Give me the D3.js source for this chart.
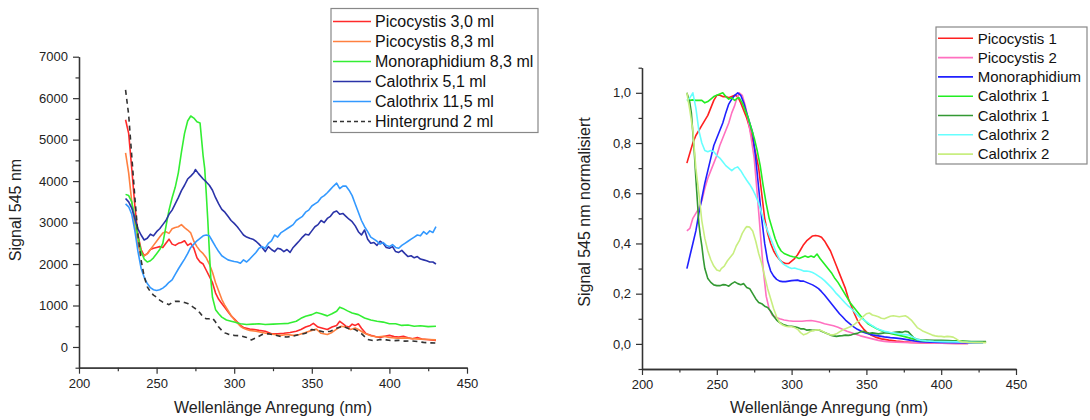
<!DOCTYPE html>
<html><head><meta charset="utf-8">
<script src="https://cdn.jsdelivr.net/npm/d3@7"></script>
<style>
body{margin:0;background:#fff;}
svg{display:block;font-family:"Liberation Sans",Arial,sans-serif;}
.tick text{fill:#222;}
</style></head>
<body><svg id="c" width="1090" height="420"></svg>
<script>
// ---------- Left chart data: Signal 545 nm vs. excitation wavelength ----------
const leftNames = ["Picocystis 3,0 ml","Picocystis 8,3 ml","Monoraphidium 8,3 ml","Calothrix 5,1 ml","Calothrix 11,5 ml","Hintergrund 2 ml"];
const leftColors = ["#ff2a2a","#ff8040","#33ee33","#2a33a8","#3399ff","#333333"];
const leftDashed = [false,false,false,false,false,true];

const picocystis30 = [[230,5480],[232,5150],[234,4300],[236,3400],[238,2700],[240,2350],[242,2200],[244,2250],[246,2350],[248,2380],[250,2400],[252,2420],[254,2400],[256,2500],[258,2600],[260,2480],[262,2450],[264,2500],[266,2520],[268,2560],[270,2450],[272,2500],[274,2380],[276,2150],[278,2050],[280,2000],[282,1850],[284,1700],[286,1550],[288,1300],[290,1150],[292,1050],[294,950],[296,850],[298,750],[300,680],[302,600],[304,520],[306,470],[308,450],[310,430],[313,420],[316,400],[320,380],[324,320],[328,320],[332,330],[336,350],[340,380],[343,420],[346,480],[349,520],[351,570],[354,480],[357,450],[360,420],[363,480],[366,520],[368,620],[370,560],[372,500],[374,480],[376,550],[378,520],[380,560],[382,450],[385,320],[388,280],[391,250],[394,230],[397,260],[400,280],[403,250],[406,240],[409,260],[412,220],[415,200],[418,230],[421,190],[424,180],[427,170],[430,160]];
const picocystis83 = [[230,4680],[232,4200],[234,3500],[236,2900],[238,2450],[240,2250],[242,2200],[244,2250],[246,2350],[248,2450],[250,2550],[252,2650],[254,2750],[256,2780],[258,2740],[260,2850],[262,2880],[264,2900],[266,2950],[268,2880],[270,2820],[272,2750],[274,2550],[276,2420],[278,2320],[280,2250],[282,2150],[284,2000],[286,1800],[288,1550],[290,1350],[292,1150],[294,1000],[296,880],[298,760],[300,660],[302,580],[304,500],[306,450],[308,420],[310,400],[314,380],[318,350],[322,320],[326,300],[330,280],[334,300],[338,280],[342,300],[346,350],[350,400],[353,430],[356,330],[360,300],[363,350],[366,430],[369,500],[372,480],[375,420],[378,460],[380,420],[384,330],[388,270],[392,240],[396,260],[400,230],[405,210],[410,220],[415,200],[420,190],[425,180],[430,170]];
const monoraphidium83 = [[230,3680],[232,3650],[234,3500],[236,3100],[238,2650],[240,2300],[242,2120],[244,2050],[246,2080],[248,2150],[250,2250],[252,2350],[254,2500],[256,2900],[258,3300],[260,3600],[262,3850],[264,4200],[266,4700],[268,5150],[270,5450],[272,5570],[274,5520],[276,5430],[278,5400],[279,5000],[280,4600],[281,4300],[282,3700],[283,3050],[284,2300],[285,1600],[286,1200],[288,900],[290,800],[292,720],[295,650],[298,620],[300,600],[304,560],[308,540],[312,550],[316,560],[320,540],[325,550],[330,560],[335,570],[340,620],[343,690],[346,740],[350,780],[353,830],[356,800],[360,750],[363,800],[366,860],[368,960],[370,930],[373,870],[376,820],[380,780],[384,700],[388,650],[392,620],[396,600],[400,560],[404,560],[408,520],[412,530],[416,500],[420,510],[425,490],[430,500]];
const calothrix51 = [[230,3580],[232,3500],[234,3350],[236,3100],[238,2850],[240,2700],[242,2580],[244,2620],[246,2720],[248,2680],[250,2780],[252,2850],[254,2950],[256,3050],[258,3200],[260,3300],[262,3450],[264,3600],[266,3770],[268,3900],[270,4050],[272,4120],[274,4200],[275,4280],[277,4180],[280,4050],[282,3980],[284,3900],[286,3780],[288,3600],[290,3450],[292,3320],[294,3250],[296,3150],[298,3050],[300,2980],[302,2900],[304,2800],[306,2700],[308,2650],[310,2620],[312,2600],[314,2550],[316,2480],[318,2400],[320,2300],[322,2420],[324,2350],[326,2300],[328,2380],[330,2360],[332,2300],[334,2350],[336,2280],[338,2400],[340,2480],[342,2560],[344,2650],[346,2720],[348,2700],[350,2800],[352,2900],[354,2950],[356,3050],[358,3000],[360,3100],[362,3150],[364,3250],[366,3280],[368,3200],[370,3220],[372,3150],[374,3080],[376,3020],[378,2920],[380,2780],[382,2700],[384,2820],[386,2600],[388,2500],[390,2520],[392,2450],[394,2550],[396,2500],[398,2400],[400,2380],[402,2420],[404,2300],[406,2280],[408,2330],[410,2250],[412,2180],[414,2200],[416,2150],[418,2180],[420,2120],[422,2100],[424,2080],[426,2050],[428,2050],[430,2000]];
const calothrix115 = [[230,3450],[232,3380],[234,3200],[236,2800],[238,2300],[240,1900],[242,1680],[244,1530],[246,1430],[248,1380],[250,1360],[252,1380],[254,1420],[256,1480],[258,1560],[260,1620],[262,1750],[264,1880],[266,2000],[268,2120],[270,2250],[272,2400],[274,2480],[276,2560],[278,2620],[280,2680],[282,2700],[284,2680],[286,2550],[288,2420],[290,2300],[292,2200],[294,2150],[296,2100],[298,2080],[300,2060],[302,2050],[304,2020],[306,2100],[308,2050],[310,2120],[312,2200],[314,2280],[316,2380],[318,2420],[320,2380],[322,2500],[324,2560],[326,2700],[328,2650],[330,2750],[332,2800],[334,2850],[336,2900],[338,2950],[340,3050],[342,3100],[344,3150],[346,3250],[348,3300],[350,3400],[352,3450],[354,3500],[356,3600],[358,3650],[360,3720],[362,3800],[364,3880],[366,3950],[368,3820],[370,3880],[372,3880],[374,3780],[376,3650],[378,3450],[380,3250],[382,3050],[384,2900],[386,2780],[388,2650],[390,2600],[392,2550],[394,2480],[396,2520],[398,2450],[400,2420],[402,2470],[404,2400],[406,2380],[408,2450],[410,2500],[412,2550],[414,2600],[416,2650],[418,2700],[420,2680],[422,2780],[424,2720],[426,2800],[428,2760],[430,2900]];
const hintergrund2 = [[230,6200],[232,5600],[234,4600],[236,3600],[238,2700],[240,2100],[242,1700],[244,1450],[246,1330],[248,1250],[250,1200],[252,1130],[254,1080],[256,1050],[258,1020],[260,1070],[262,1100],[264,1100],[266,1090],[268,1070],[270,1050],[272,1000],[274,950],[276,900],[278,820],[280,720],[282,680],[284,680],[286,700],[288,600],[290,480],[292,400],[294,340],[296,310],[300,280],[304,270],[308,230],[311,170],[314,220],[318,300],[322,320],[326,290],[330,250],[334,240],[338,260],[342,300],[346,330],[350,420],[354,400],[358,360],[362,380],[366,450],[370,500],[374,440],[378,420],[382,320],[386,180],[390,150],[394,180],[398,170],[402,150],[406,160],[410,140],[414,150],[418,130],[422,110],[426,100],[430,95]];
const leftSeries = [picocystis30,picocystis83,monoraphidium83,calothrix51,calothrix115,hintergrund2];

// ---------- Right chart data: normalised signal ----------
const rightNames = ["Picocystis 1","Picocystis 2","Monoraphidium","Calothrix 1","Calothrix 1","Calothrix 2","Calothrix 2"];
const rightColors = ["#ff2020","#ff70c0","#2020ff","#22ee22","#339933","#66ffff","#c8ee80"];

const picocystis1N = [[230,0.72],[232,0.76],[234,0.80],[236,0.83],[238,0.85],[240,0.87],[242,0.89],[244,0.91],[246,0.94],[248,0.97],[250,0.99],[252,0.99],[254,0.985],[256,0.985],[258,0.98],[260,0.985],[262,0.99],[264,0.985],[266,0.96],[268,0.93],[270,0.90],[272,0.86],[274,0.81],[276,0.76],[278,0.70],[280,0.60],[282,0.50],[284,0.44],[286,0.40],[288,0.37],[290,0.35],[292,0.335],[294,0.325],[296,0.32],[298,0.32],[300,0.33],[302,0.34],[304,0.355],[306,0.375],[308,0.395],[310,0.41],[312,0.42],[314,0.43],[316,0.432],[318,0.43],[320,0.425],[322,0.41],[324,0.39],[326,0.37],[328,0.34],[330,0.31],[332,0.28],[334,0.25],[336,0.22],[338,0.18],[340,0.15],[342,0.12],[344,0.095],[346,0.075],[348,0.06],[350,0.048],[353,0.035],[356,0.027],[360,0.02],[365,0.015],[370,0.011],[375,0.008],[380,0.006],[390,0.004],[400,0.003],[410,0.002],[418,0.002]];
const picocystis2N = [[230,0.45],[232,0.46],[234,0.50],[236,0.52],[238,0.54],[240,0.57],[242,0.62],[244,0.66],[246,0.69],[248,0.72],[250,0.75],[252,0.79],[254,0.82],[256,0.85],[258,0.88],[260,0.92],[262,0.95],[263,0.97],[265,1.0],[267,0.99],[269,0.95],[271,0.89],[273,0.82],[275,0.74],[277,0.60],[279,0.45],[281,0.30],[283,0.19],[285,0.14],[287,0.115],[290,0.105],[292,0.10],[295,0.095],[298,0.092],[301,0.09],[304,0.09],[307,0.09],[310,0.092],[313,0.093],[316,0.09],[319,0.086],[322,0.08],[325,0.076],[328,0.072],[331,0.066],[334,0.058],[337,0.05],[340,0.044],[343,0.038],[346,0.032],[350,0.026],[354,0.02],[358,0.014],[362,0.01],[366,0.008],[370,0.007],[380,0.005],[390,0.004],[400,0.003],[410,0.002],[418,0.002]];
const monoraphidiumN = [[230,0.30],[232,0.35],[234,0.40],[236,0.45],[238,0.52],[240,0.58],[242,0.64],[244,0.69],[246,0.74],[248,0.79],[250,0.82],[252,0.85],[254,0.88],[256,0.92],[258,0.955],[260,0.975],[262,0.99],[264,1.0],[266,0.99],[268,0.96],[270,0.92],[272,0.88],[274,0.84],[276,0.74],[278,0.62],[280,0.50],[282,0.40],[284,0.33],[286,0.29],[288,0.27],[290,0.257],[292,0.25],[294,0.248],[296,0.248],[298,0.25],[300,0.252],[302,0.253],[304,0.254],[306,0.25],[308,0.25],[310,0.245],[312,0.24],[314,0.235],[316,0.228],[318,0.22],[320,0.208],[322,0.195],[324,0.18],[326,0.165],[328,0.15],[330,0.135],[332,0.12],[334,0.108],[336,0.095],[338,0.085],[340,0.075],[342,0.066],[344,0.058],[346,0.052],[348,0.046],[350,0.042],[354,0.036],[358,0.032],[362,0.028],[366,0.025],[370,0.023],[374,0.02],[378,0.016],[382,0.012],[386,0.009],[390,0.008],[400,0.006],[410,0.005],[420,0.004],[428,0.004]];
const calothrix1aN = [[230,0.97],[232,0.97],[234,0.972],[236,0.97],[238,0.97],[240,0.97],[242,0.96],[244,0.965],[246,0.975],[248,0.985],[250,0.99],[252,0.995],[254,1.0],[256,0.985],[258,0.975],[260,0.98],[262,0.97],[264,0.98],[265,0.98],[267,0.96],[269,0.93],[271,0.90],[273,0.86],[275,0.82],[277,0.77],[279,0.71],[281,0.63],[283,0.56],[285,0.50],[287,0.46],[289,0.42],[291,0.39],[293,0.37],[295,0.36],[297,0.355],[299,0.35],[301,0.347],[303,0.345],[305,0.34],[307,0.345],[309,0.35],[311,0.345],[313,0.35],[315,0.345],[317,0.358],[319,0.34],[321,0.325],[323,0.31],[325,0.295],[327,0.28],[329,0.26],[331,0.245],[333,0.225],[335,0.205],[337,0.185],[339,0.165],[341,0.15],[343,0.135],[345,0.12],[347,0.105],[349,0.092],[351,0.08],[354,0.07],[357,0.06],[360,0.052],[363,0.046],[366,0.042],[369,0.038],[372,0.034],[375,0.03],[378,0.025],[381,0.02],[384,0.016],[387,0.013],[390,0.012],[395,0.012],[400,0.011],[405,0.01],[410,0.012],[415,0.01],[420,0.008],[425,0.007],[430,0.007]];
const calothrix1bN = [[230,1.0],[231,0.98],[232,0.96],[233,0.92],[234,0.84],[235,0.76],[236,0.66],[237,0.57],[238,0.48],[239,0.43],[240,0.39],[241,0.34],[242,0.30],[243,0.28],[244,0.26],[246,0.245],[248,0.235],[250,0.232],[252,0.232],[254,0.236],[256,0.235],[258,0.23],[260,0.24],[262,0.247],[264,0.24],[266,0.236],[268,0.24],[270,0.225],[272,0.22],[274,0.2],[276,0.18],[278,0.165],[280,0.16],[282,0.15],[284,0.145],[286,0.13],[288,0.11],[290,0.095],[292,0.085],[294,0.078],[296,0.074],[298,0.07],[300,0.07],[302,0.068],[304,0.065],[306,0.06],[308,0.06],[310,0.055],[312,0.056],[314,0.054],[316,0.055],[318,0.056],[320,0.05],[322,0.045],[324,0.04],[326,0.035],[328,0.032],[330,0.03],[332,0.032],[334,0.033],[336,0.035],[338,0.034],[340,0.036],[342,0.04],[344,0.042],[346,0.048],[348,0.05],[350,0.045],[352,0.042],[354,0.044],[356,0.042],[358,0.04],[360,0.042],[362,0.044],[364,0.045],[366,0.043],[368,0.045],[370,0.047],[372,0.048],[374,0.046],[376,0.05],[378,0.048],[380,0.035],[382,0.022],[384,0.018],[386,0.016],[390,0.015],[395,0.014],[400,0.014],[405,0.013],[410,0.011],[415,0.01],[420,0.009],[425,0.009],[430,0.009]];
const calothrix2aN = [[230,0.97],[232,0.98],[234,1.0],[236,0.94],[238,0.85],[240,0.80],[242,0.77],[244,0.765],[246,0.77],[248,0.765],[250,0.75],[252,0.74],[254,0.725],[256,0.71],[258,0.70],[260,0.69],[262,0.70],[264,0.705],[266,0.69],[268,0.67],[270,0.652],[272,0.635],[274,0.615],[276,0.59],[278,0.56],[280,0.52],[282,0.48],[284,0.45],[286,0.42],[288,0.39],[290,0.36],[292,0.335],[294,0.32],[296,0.312],[298,0.305],[300,0.30],[302,0.302],[304,0.298],[306,0.295],[308,0.29],[310,0.29],[312,0.288],[314,0.284],[316,0.278],[318,0.27],[320,0.262],[322,0.252],[324,0.24],[326,0.228],[328,0.215],[330,0.2],[332,0.188],[334,0.175],[336,0.162],[338,0.15],[340,0.14],[342,0.128],[344,0.115],[346,0.105],[348,0.097],[350,0.089],[352,0.08],[354,0.072],[356,0.065],[358,0.058],[360,0.054],[362,0.05],[364,0.048],[366,0.045],[368,0.044],[370,0.042],[372,0.04],[374,0.038],[376,0.037],[378,0.036],[380,0.03],[382,0.024],[384,0.018],[386,0.015],[390,0.012],[395,0.01],[400,0.009],[410,0.008],[420,0.006],[428,0.005]];
const calothrix2bN = [[230,1.0],[232,0.93],[234,0.85],[236,0.70],[238,0.60],[240,0.49],[242,0.42],[244,0.37],[246,0.335],[248,0.31],[250,0.294],[252,0.29],[253,0.30],[255,0.31],[257,0.33],[259,0.345],[261,0.36],[263,0.39],[265,0.41],[267,0.44],[269,0.46],[270,0.467],[272,0.465],[274,0.45],[276,0.41],[278,0.36],[280,0.32],[282,0.27],[284,0.22],[286,0.18],[288,0.14],[290,0.108],[292,0.085],[294,0.075],[296,0.07],[298,0.068],[300,0.068],[302,0.065],[304,0.058],[306,0.045],[308,0.036],[310,0.04],[312,0.048],[314,0.052],[316,0.055],[318,0.056],[320,0.052],[322,0.046],[324,0.04],[326,0.036],[328,0.036],[330,0.04],[332,0.048],[334,0.055],[336,0.06],[338,0.065],[340,0.07],[342,0.078],[344,0.088],[346,0.097],[348,0.11],[350,0.12],[352,0.123],[354,0.115],[356,0.112],[358,0.108],[360,0.102],[362,0.1],[364,0.105],[366,0.11],[368,0.112],[370,0.11],[372,0.108],[374,0.11],[376,0.112],[378,0.105],[380,0.095],[382,0.08],[384,0.065],[386,0.058],[388,0.05],[390,0.045],[392,0.04],[394,0.035],[396,0.032],[398,0.03],[400,0.03],[402,0.028],[404,0.03],[406,0.029],[408,0.027],[410,0.02],[412,0.012],[414,0.008],[418,0.006],[422,0.005],[426,0.005],[430,0.005]];
const rightSeries = [picocystis1N,picocystis2N,monoraphidiumN,calothrix1aN,calothrix1bN,calothrix2aN,calothrix2bN];

// ---------- Ticks ----------
const xMajor = [200,250,300,350,400,450];
const xMinor = [225,275,325,375,425];
const leftYMajor = [0,1000,2000,3000,4000,5000,6000,7000];
const leftYMinor = [-500,500,1500,2500,3500,4500,5500,6500];
const rightYMajor = [0,0.2,0.4,0.6,0.8,1.0];
const rightYMinor = [-0.1,0.1,0.3,0.5,0.7,0.9,1.1];
const xTitle = "Wellenlänge Anregung (nm)";
const leftYTitle = "Signal 545 nm";
const rightYTitle = "Signal 545 nm normalisiert";

const svg = d3.select("#c");

function drawPanel(cfg){
  const g = svg.append("g");
  const x = d3.scaleLinear().domain([200,450]).range(cfg.xr);
  const y = d3.scaleLinear().domain(cfg.yd).range(cfg.yr);
  const line = d3.line().x(d=>x(d[0])).y(d=>y(d[1]));
  cfg.series.forEach((s,i)=>{
    g.append("path").datum(s).attr("d",line).attr("fill","none")
      .attr("stroke",cfg.colors[i]).attr("stroke-width",1.6)
      .attr("stroke-linejoin","round")
      .attr("stroke-dasharray",cfg.dashed && cfg.dashed[i] ? "5,4" : null);
  });
  g.append("g").attr("transform",`translate(0,${cfg.yr[0]})`)
    .call(d3.axisBottom(x).tickValues(xMajor).tickSize(6).tickSizeOuter(0).tickPadding(5).tickFormat(d3.format("d")));
  g.append("g").attr("transform",`translate(0,${cfg.yr[0]})`)
    .call(d3.axisBottom(x).tickValues(xMinor).tickSize(3.5).tickSizeOuter(0).tickFormat(""));
  g.append("g").attr("transform",`translate(${cfg.xr[0]},0)`)
    .call(d3.axisLeft(y).tickValues(cfg.yMajor).tickSize(6).tickSizeOuter(0).tickPadding(5).tickFormat(cfg.fmt));
  g.append("g").attr("transform",`translate(${cfg.xr[0]},0)`)
    .call(d3.axisLeft(y).tickValues(cfg.yMinor).tickSize(3.5).tickSizeOuter(0).tickFormat(""));
  g.selectAll(".domain").attr("stroke","#333").attr("stroke-width",1.3);
  g.selectAll(".tick line").attr("stroke","#333").attr("stroke-width",1.2);
  g.selectAll(".tick text").attr("font-size",13).attr("font-family","Liberation Sans, Arial, sans-serif");
  g.append("text").attr("x",(cfg.xr[0]+cfg.xr[1])/2).attr("y",413)
    .attr("text-anchor","middle").attr("font-size",16).attr("fill","#222").text(xTitle);
  g.append("text").attr("transform",`translate(${cfg.ytx},${cfg.yty}) rotate(-90)`)
    .attr("text-anchor","middle").attr("font-size",16).attr("fill","#222").text(cfg.ytitle);
  const L = cfg.legend;
  g.append("rect").attr("x",L.x).attr("y",L.y).attr("width",L.w).attr("height",L.h)
    .attr("fill","#fff").attr("stroke","#888").attr("stroke-width",1.2);
  cfg.names.forEach((n,i)=>{
    const ly = L.y0 + i*L.dy;
    g.append("line").attr("x1",L.lx0).attr("x2",L.lx1).attr("y1",ly).attr("y2",ly)
      .attr("stroke",cfg.colors[i]).attr("stroke-width",1.6)
      .attr("stroke-dasharray",cfg.dashed && cfg.dashed[i] ? "4,3" : null);
    g.append("text").attr("x",L.tx).attr("y",ly+L.fs*0.35).attr("font-size",L.fs).attr("fill","#111").text(n);
  });
}

drawPanel({
  xr:[79,467], yd:[-500,7000], yr:[367.7,56.7],
  series:leftSeries, colors:leftColors, dashed:leftDashed, names:leftNames,
  yMajor:leftYMajor, yMinor:leftYMinor, fmt:d3.format("d"),
  ytitle:leftYTitle, ytx:21, yty:210,
  legend:{x:331,y:8.5,w:207,h:124,y0:21.5,dy:20,lx0:333,lx1:371,tx:375,fs:16}
});
drawPanel({
  xr:[642,1016], yd:[-0.1,1.1], yr:[369,67.7],
  series:rightSeries, colors:rightColors, names:rightNames,
  yMajor:rightYMajor, yMinor:rightYMinor, fmt:d=>d3.format(".1f")(d).replace(".",","),
  ytitle:rightYTitle, ytx:590, yty:212,
  legend:{x:936,y:27,w:151,h:137,y0:38.3,dy:19.3,lx0:938,lx1:973,tx:977.7,fs:15}
});
</script></body></html>
